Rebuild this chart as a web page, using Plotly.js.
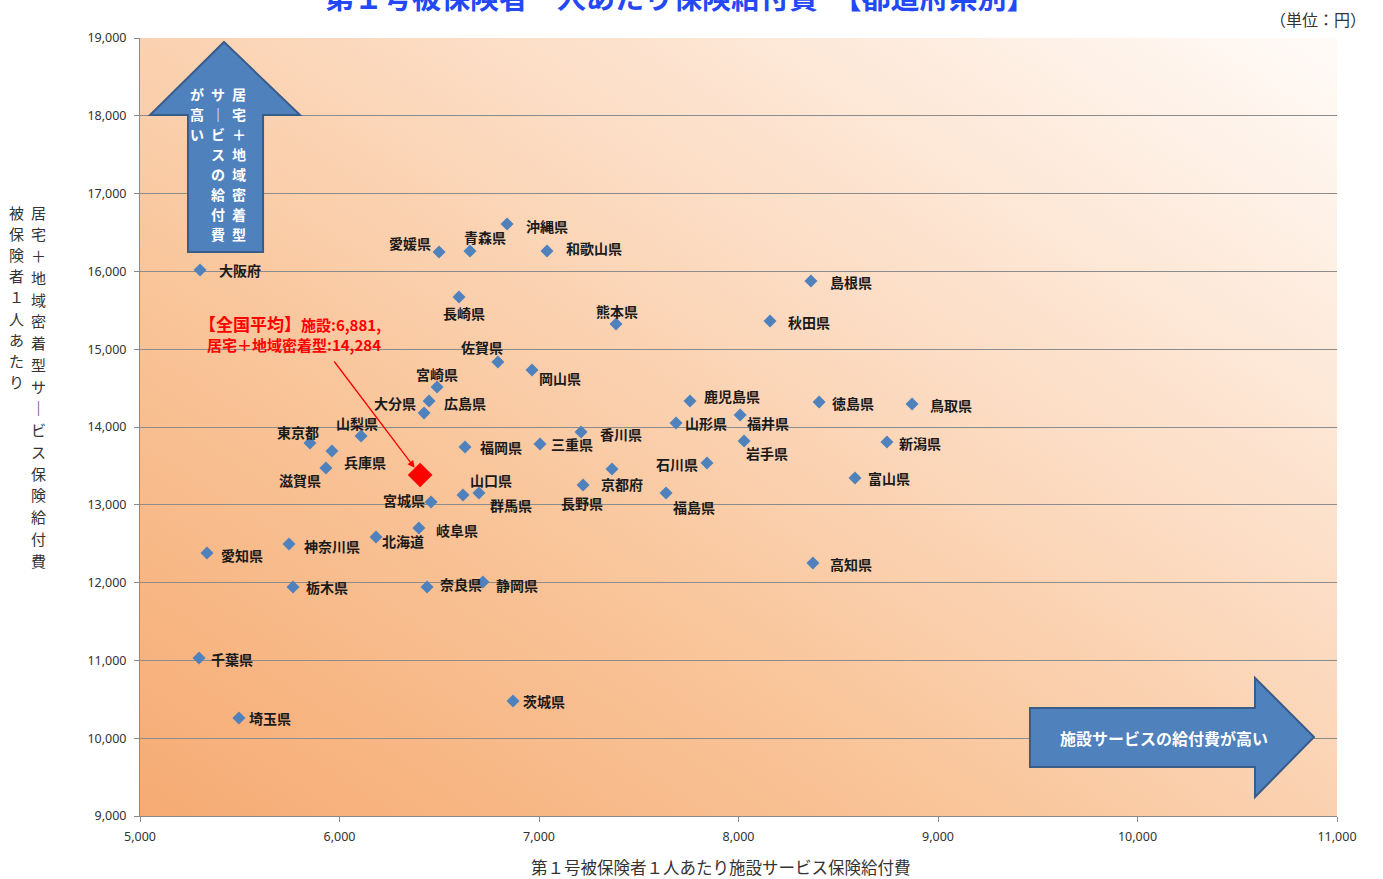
<!DOCTYPE html>
<html>
<head>
<meta charset="utf-8">
<script src="https://cdn.plot.ly/plotly-3.0.1.min.js"></script>
<style>
html,body{margin:0;padding:0;background:#fff;}
#chart{width:1383px;height:879px;}
</style>
</head>
<body>
<div id="chart"></div>
<script>
// ---- data ----
const prefectures = ["北海道","青森県","岩手県","宮城県","秋田県","山形県","福島県","茨城県","栃木県","群馬県",
  "埼玉県","千葉県","東京都","神奈川県","新潟県","富山県","石川県","福井県","山梨県","長野県",
  "岐阜県","静岡県","愛知県","三重県","滋賀県","京都府","大阪府","兵庫県","奈良県","和歌山県",
  "鳥取県","島根県","岡山県","広島県","山口県","徳島県","香川県","愛媛県","高知県","福岡県",
  "佐賀県","長崎県","熊本県","大分県","宮崎県","鹿児島県","沖縄県"];
// 施設サービス保険給付費 (円)
const facilityCost = [6183,6654,8028,6459,8158,7687,7637,6870,5767,6699,
  5496,5296,5852,5747,8744,8584,7842,8008,6108,7221,
  6398,6719,5336,7005,5932,7366,5301,5962,6439,7040,
  8870,8363,6965,6449,6619,8404,7211,6499,8373,6629,
  6794,6599,7386,6424,6489,7757,6840];
// 居宅＋地域密着型サービス保険給付費 (円)
const homeCommunityCost = [12586,16262,13820,13036,15363,14052,13152,10478,11944,13152,
  10260,11031,13795,12496,13807,13345,13537,14154,13884,13255,
  12702,12008,12381,13782,13473,13460,16018,13692,11944,16262,
  14296,15877,14733,14334,13126,14322,13936,16249,12252,13743,
  14836,15671,15324,14180,14514,14334,16609];

const avgMarkerX = [6404];
const avgMarkerY = [13383];
const avgLabelFacility = "6,881";
const avgLabelHome = "14,284";

const xTickVals = [5000,6000,7000,8000,9000,10000,11000];
const yTickVals = [9000,10000,11000,12000,13000,14000,15000,16000,17000,18000,19000];

const titleText = "第１号被保険者一人あたり保険給付費　【都道府県別】";
const unitText = "（単位：円）";
const xTitleText = "第１号被保険者１人あたり施設サービス保険給付費";
const yTitleCol1 = "居宅＋地域密着型サ｜ビス保険給付費";
const yTitleCol2 = "被保険者１人あたり";
const upArrowCols = ["居宅＋地域密着型","サ｜ビスの給付費","が高い"];
const rightArrowText = "施設サービスの給付費が高い";

// ---- label placement (pixel offsets from each point: [right, down]) ----
const labelOffsets = [[27,4],[15,-14],[23,12],[-27,-2],[39,1],[30,0],[28,14],[31,0],[34,0],[32,12],
  [31,0],[33,1],[-12,-11],[43,2],[33,1],[34,0],[-30,1],[28,8],[-4,-13],[-1,18],
  [38,2],[34,3],[35,2],[32,0],[-26,12],[10,15],[40,0],[33,11],[34,-3],[47,-3],
  [39,1],[40,1],[28,8],[36,2],[28,-15],[34,1],[40,2],[-29,-9],[38,1],[36,0],
  [-16,-15],[5,16],[1,-13],[-29,-10],[0,-13],[42,-5],[40,2]];

// ---- helpers: pixel -> paper ----
const PL=140, PR=1337, PT=38, PB=816;
const px = v => (v-PL)/(PR-PL);
const py = v => (PB-v)/(PB-PT);

const JP = '"Noto Sans CJK JP","Noto Sans",sans-serif';

const traces = [
  {
    type:'scatter', mode:'markers', x:facilityCost, y:homeCommunityCost, text:prefectures,
    marker:{symbol:'diamond', size:10, color:'#4f81bd', line:{width:0}},
    hoverinfo:'text+x+y', showlegend:false, cliponaxis:false
  },
  {
    type:'scatter', mode:'markers', x:avgMarkerX, y:avgMarkerY,
    marker:{symbol:'diamond', size:19, color:'#ff0000', line:{width:0}},
    showlegend:false, hoverinfo:'skip'
  }
];

const annotations = [];
prefectures.forEach((name,i)=>{
  annotations.push({
    x:facilityCost[i], y:homeCommunityCost[i], xref:'x', yref:'y',
    text:name, showarrow:false, xanchor:'center', yanchor:'middle',
    xshift:labelOffsets[i][0], yshift:-labelOffsets[i][1],
    font:{family:JP, size:14, color:'#1a1a1a', weight:'bold'}
  });
});

// vertical text: one annotation per character, stacked top to bottom
function verticalText(str, cx, firstCy, pitch, font){
  Array.from(str).forEach((ch,k)=>{
    annotations.push({
      x:px(cx), y:py(firstCy + k*pitch), xref:'paper', yref:'paper', showarrow:false,
      xanchor:'center', yanchor:'middle', text:ch, font:font
    });
  });
}

// national average arrow & label
annotations.push({
  x:avgMarkerX[0], y:avgMarkerY[0], xref:'x', yref:'y', text:'',
  showarrow:true, ax:-87, ay:-115, arrowhead:2, arrowsize:1.1, arrowwidth:1.3,
  arrowcolor:'#ff0000', standoff:9
});
annotations.push({
  x:px(383), y:py(333), xref:'paper', yref:'paper', showarrow:false,
  xanchor:'right', yanchor:'middle', align:'right',
  text:'<span style="font-size:17px">【全国平均】</span>施設:' + avgLabelFacility + ',<br>居宅＋地域密着型:' + avgLabelHome,
  font:{family:JP, size:15, color:'#ff0000', weight:'bold'}
});

// title (cut at the top edge, as in the reference)
annotations.push({
  x:px(680), y:py(-4), xref:'paper', yref:'paper', showarrow:false,
  xanchor:'center', yanchor:'middle', text:titleText,
  font:{family:JP, size:29, color:'#2448f5', weight:'bold'}
});
// unit
annotations.push({
  x:px(1368), y:py(19), xref:'paper', yref:'paper', showarrow:false,
  xanchor:'right', yanchor:'middle', text:unitText,
  font:{family:JP, size:16, color:'#333333'}
});
// x title
annotations.push({
  x:px(721), y:py(867), xref:'paper', yref:'paper', showarrow:false,
  xanchor:'center', yanchor:'middle', text:xTitleText,
  font:{family:JP, size:16.5, color:'#333333'}
});
// y title (two vertical columns)
const yTitleFont = {family:JP, size:15, color:'#333333'};
verticalText(yTitleCol1, 38, 212, 21.75, yTitleFont);
verticalText(yTitleCol2, 16, 212, 21.2, yTitleFont);

// up-arrow text columns
const upFont = {family:JP, size:14, color:'#ffffff', weight:'bold'};
const upColX = [239,218,197];
upArrowCols.forEach((s,i)=> verticalText(s, upColX[i], 94, 20, upFont));

// right-arrow text
annotations.push({
  x:px(1164), y:py(738), xref:'paper', yref:'paper', showarrow:false,
  xanchor:'center', yanchor:'middle', text:rightArrowText,
  font:{family:JP, size:16, color:'#ffffff', weight:'bold'}
});

// arrow shapes (paper coordinates)
const P = (a,b)=> px(a).toFixed(4)+','+py(b).toFixed(4);
const upArrow = 'M'+P(224,42)+' L'+P(300,115)+' L'+P(263,115)+' L'+P(263,252)+' L'+P(188,252)+' L'+P(188,115)+' L'+P(150,115)+' Z';
const rightArrow = 'M'+P(1030,708)+' L'+P(1255,708)+' L'+P(1255,678)+' L'+P(1314,737)+' L'+P(1255,797)+' L'+P(1255,767)+' L'+P(1030,767)+' Z';
const shapes = [
  {type:'path', xref:'paper', yref:'paper', path:upArrow, fillcolor:'#4f81bd', line:{color:'#385d8a', width:2}, layer:'above'},
  {type:'path', xref:'paper', yref:'paper', path:rightArrow, fillcolor:'#4f81bd', line:{color:'#385d8a', width:2}, layer:'above'}
];

// gradient background
const svgBg = "<svg xmlns='http://www.w3.org/2000/svg' width='200' height='200' viewBox='0 0 200 200' preserveAspectRatio='none'>"+
  "<defs><linearGradient id='g' x1='0' y1='1' x2='1' y2='0'>"+
  "<stop offset='0' stop-color='#f6ab73'/><stop offset='0.35' stop-color='#f9c59a'/>"+
  "<stop offset='0.62' stop-color='#fcdcc3'/><stop offset='1' stop-color='#fffbf8'/>"+
  "</linearGradient></defs><rect x='0' y='0' width='200' height='200' fill='url(#g)'/></svg>";
const bgSrc = 'data:image/svg+xml;base64,' + btoa(svgBg);

const layout = {
  width:1383, height:879,
  margin:{l:PL, r:1383-PR, t:PT, b:879-PB, pad:0},
  paper_bgcolor:'#ffffff', plot_bgcolor:'rgba(0,0,0,0)',
  font:{family:JP, color:'#333333'},
  showlegend:false,
  xaxis:{
    range:[5000,11000], tickvals:xTickVals, tickformat:',', showgrid:false, zeroline:false,
    showline:true, linecolor:'#8a8a8a', linewidth:1, ticks:'outside', ticklen:5, tickcolor:'#8a8a8a',
    ticklabelstandoff:4,
    tickfont:{family:'"Noto Sans",sans-serif', size:12.5, color:'#333333'}, fixedrange:true
  },
  yaxis:{
    range:[9000,19000], tickvals:yTickVals, tickformat:',', showgrid:true, gridcolor:'#8c8c8c', gridwidth:1,
    zeroline:false, showline:true, linecolor:'#8a8a8a', linewidth:1, ticks:'outside', ticklen:5, tickcolor:'#8a8a8a',
    ticklabelstandoff:5,
    tickfont:{family:'"Noto Sans",sans-serif', size:12.5, color:'#333333'}, fixedrange:true
  },
  images:[{source:bgSrc, xref:'paper', yref:'paper', x:0, y:1, sizex:1, sizey:1,
    xanchor:'left', yanchor:'top', sizing:'stretch', layer:'below'}],
  shapes:shapes,
  annotations:annotations
};

Plotly.newPlot('chart', traces, layout, {displayModeBar:false, staticPlot:true});
</script>
</body>
</html>
